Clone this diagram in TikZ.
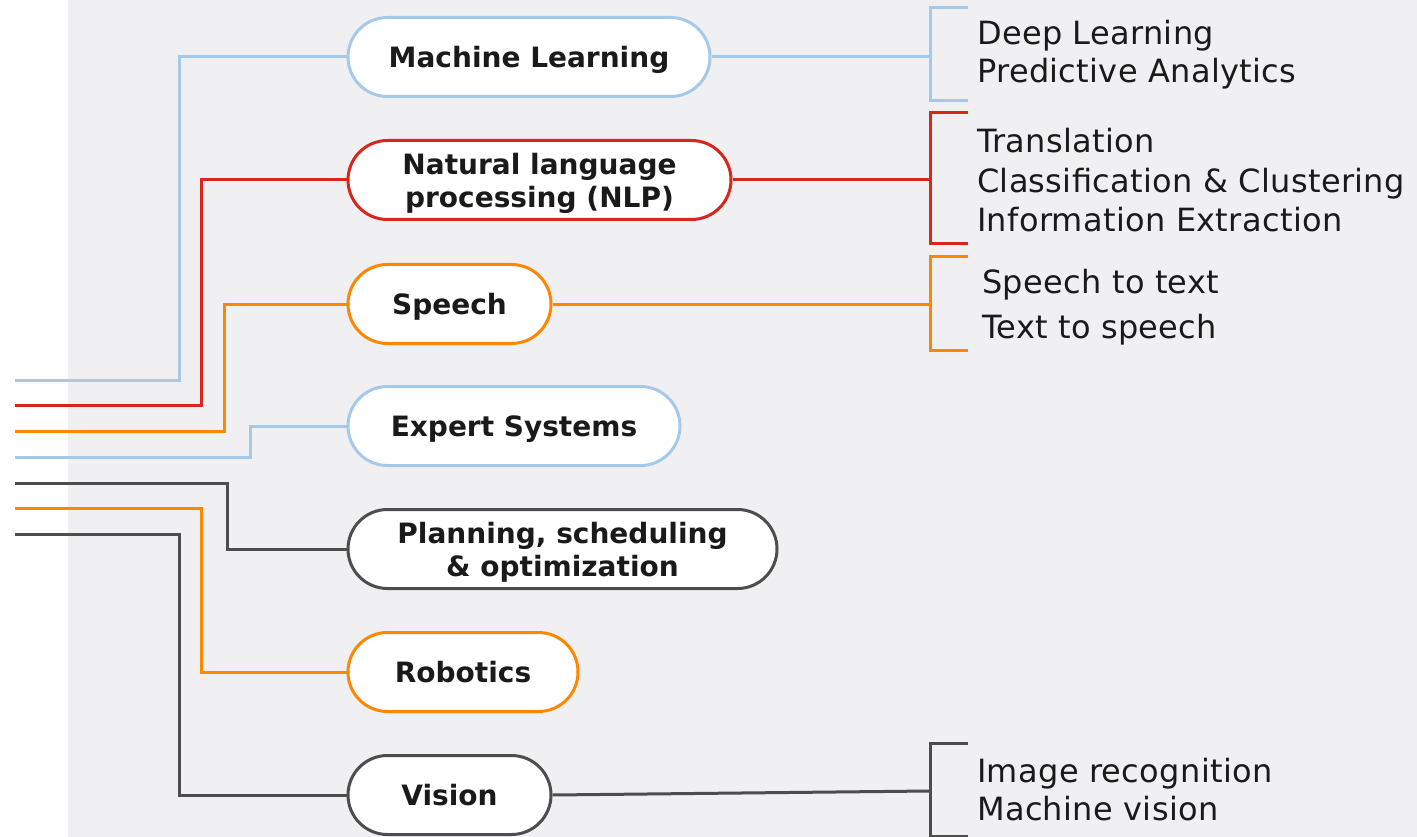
\documentclass[tikz,border=0pt]{standalone}
\usepackage{fontspec}
\setmainfont{DejaVu Sans}
\newfontfamily\itemfont[LetterSpace=1]{DejaVu Sans}

\definecolor{mlblue}{HTML}{A5CAE9}
\definecolor{nlpred}{HTML}{DA251D}
\definecolor{sporange}{HTML}{FF8700}
\definecolor{visgray}{HTML}{4D4D4D}
\definecolor{bggray}{HTML}{F0F0F2}
\definecolor{ink}{HTML}{1A1A1A}

\tikzset{
  topic/.style={draw=#1, fill=white, line width=3pt, rounded corners=39.5pt,
    minimum height=79pt, anchor=west, inner xsep=0pt, align=center, text=ink,
    text depth=0pt, font=\fontsize{28}{33}\selectfont\bfseries},
  item/.style={anchor=base west, inner sep=0pt, text=ink,
    font=\fontsize{32}{38}\itemfont},
  link/.style={line width=3pt},
}

\begin{document}
\begin{tikzpicture}[x=1pt,y=-1pt]
  \useasboundingbox (0,0) rectangle (1417,837);
  \fill[white] (0,0) rectangle (68,837);
  \fill[bggray] (68,0) rectangle (1417,837);

  %topics
  \node[topic=mlblue, minimum width=362pt] (ml) at (346.5,57) {Machine Learning};
  \node[topic=nlpred, minimum width=383pt] (nlp) at (346.5,180) {Natural language\\processing (NLP)};
  \node[topic=sporange, minimum width=203pt] (speech) at (346.5,304) {Speech};
  \node[topic=mlblue, minimum width=332pt] (expert) at (346.5,426) {Expert Systems};
  \node[topic=visgray, minimum width=429pt] (plan) at (346.5,549) {Planning, scheduling\\\& optimization};
  \node[topic=sporange, minimum width=230pt] (robot) at (346.5,672) {Robotics};
  \node[topic=visgray, minimum width=203pt] (vision) at (346.5,795) {Vision};

  %inputs
  \coordinate (in1) at (15,380);
  \coordinate (in2) at (15,405);
  \coordinate (in3) at (15,431);
  \coordinate (in4) at (15,457);
  \coordinate (in5) at (15,483);
  \coordinate (in6) at (15,508);
  \coordinate (in7) at (15,534);

  \draw[link,mlblue] (in1) -- ++(164,0) |- (ml.west);
  \draw[link,nlpred] (in2) -- ++(186,0) |- (nlp.west);
  \draw[link,sporange] (in3) -- ++(209,0) |- (speech.west);
  \draw[link,mlblue] (in4) -- ++(235,0) |- (expert.west);
  \draw[link,visgray] (in5) -- ++(212,0) |- (plan.west);
  \draw[link,sporange] (in6) -- ++(186,0) |- (robot.west);
  \draw[link,visgray] (in7) -- ++(164,0) |- (vision.west);

  %Machine Learning
  \coordinate (mlbr) at (930,57);
  \draw[link,mlblue] (ml.east) -- (mlbr);
  \draw[link,mlblue] (968,8) -- (930,8) -- (930,101) -- (968,101);
  \node[item] (deep) at (977,45) {Deep Learning};
  \node[item] (pred) at (977,83) {Predictive Analytics};

  %NLP
  \coordinate (nlpbr) at (930,180);
  \draw[link,nlpred] (nlp.east) -- (nlpbr);
  \draw[link,nlpred] (968,113) -- (930,113) -- (930,244) -- (968,244);
  \node[item] (trans) at (977,153) {Translation};
  \node[item] (class) at (977,193) {Classification \& Clustering};
  \node[item] (info) at (977,232) {Information Extraction};

  %Speech
  \coordinate (spbr) at (930,304);
  \draw[link,sporange] (speech.east) -- (spbr);
  \draw[link,sporange] (968,257) -- (930,257) -- (930,350) -- (968,350);
  \node[item] (stt) at (982,294) {Speech to text};
  \node[item] (tts) at (982,338) {Text to speech};

  %Vision
  \coordinate (visbr) at (930,791);
  \draw[link,visgray] (vision.east) -- (visbr);
  \draw[link,visgray] (968,743) -- (930,743) -- (930,836) -- (968,836);
  \node[item] (image) at (977,782) {Image recognition};
  \node[item] (mvis) at (977,820) {Machine vision};

\end{tikzpicture}
\end{document}
